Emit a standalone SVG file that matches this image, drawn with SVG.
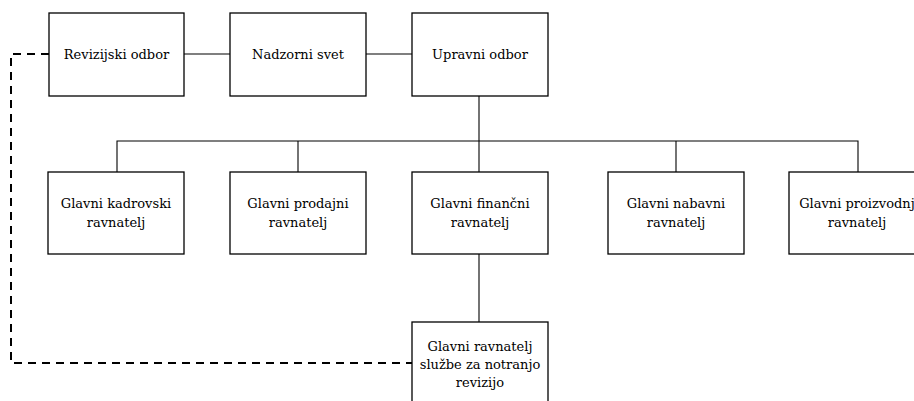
<svg xmlns="http://www.w3.org/2000/svg" width="914" height="401" viewBox="0 0 914 401">
<style>
.box{fill:#fff;stroke:#000;stroke-width:1.3}
text{font-family:'DejaVu Serif','Liberation Serif',serif;font-size:13px;fill:#000;text-anchor:middle}
.c{fill:none;stroke:#000;stroke-width:1.1}
.d{fill:none;stroke:#000;stroke-width:2;stroke-dasharray:8 6}
</style>
<rect width="914" height="401" fill="#fff"/>
<g id="connectors">
<line class="c" x1="184" y1="54" x2="230" y2="54"/>
<line class="c" x1="366" y1="54" x2="412" y2="54"/>
<line class="c" x1="479" y1="96" x2="479" y2="172"/>
<polyline class="c" points="117,172 117,141 858,141 858,172"/>
<line class="c" x1="298" y1="141" x2="298" y2="172"/>
<line class="c" x1="676" y1="141" x2="676" y2="172"/>
<line class="c" x1="479" y1="254" x2="479" y2="322"/>
<polyline class="d" points="49,54 11,54 11,363 412,363"/>
</g>
<g id="revizijski-odbor"><rect class="box" x="49" y="13" width="135" height="83"/><text x="116.5" y="59">Revizijski odbor</text></g>
<g id="nadzorni-svet"><rect class="box" x="230" y="13" width="136" height="83"/><text x="298" y="59">Nadzorni svet</text></g>
<g id="upravni-odbor"><rect class="box" x="412" y="13" width="136" height="83"/><text x="480" y="59">Upravni odbor</text></g>
<g id="kadrovski"><rect class="box" x="48" y="172" width="136" height="82"/><text x="116" y="208">Glavni kadrovski</text><text x="116" y="227">ravnatelj</text></g>
<g id="prodajni"><rect class="box" x="230" y="172" width="136" height="82"/><text x="298" y="208">Glavni prodajni</text><text x="298" y="227">ravnatelj</text></g>
<g id="financni"><rect class="box" x="412" y="172" width="136" height="82"/><text x="480" y="208">Glavni finančni</text><text x="480" y="227">ravnatelj</text></g>
<g id="nabavni"><rect class="box" x="608" y="172" width="136" height="82"/><text x="676" y="208">Glavni nabavni</text><text x="676" y="227">ravnatelj</text></g>
<g id="proizvodni"><rect class="box" x="789" y="172" width="136" height="82"/><text x="857" y="208">Glavni proizvodnj</text><text x="857" y="227">ravnatelj</text></g>
<g id="notranja-revizija"><rect class="box" x="412" y="322" width="136" height="90"/><text x="480" y="351">Glavni ravnatelj</text><text x="480" y="369">službe za notranjo</text><text x="480" y="387">revizijo</text></g>
</svg>
